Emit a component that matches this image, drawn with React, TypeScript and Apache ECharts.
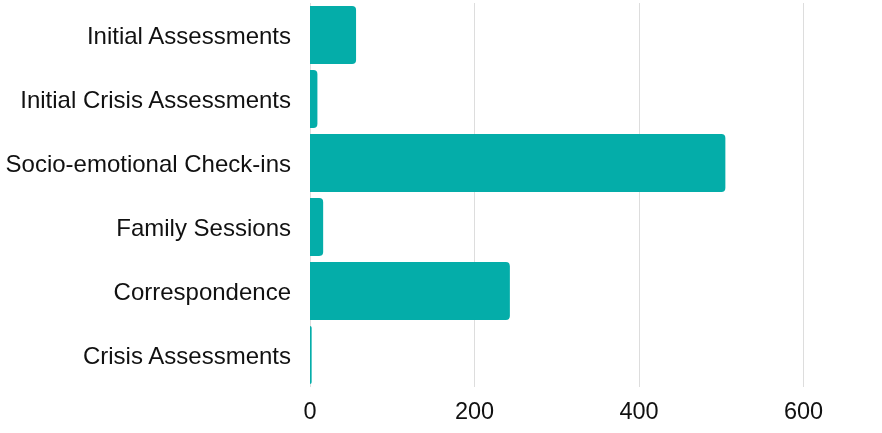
import React, { useEffect, useRef } from "react";
import * as echarts from "echarts";

const categories = [
  "Initial Assessments",
  "Initial Crisis Assessments",
  "Socio-emotional Check-ins",
  "Family Sessions",
  "Correspondence",
  "Crisis Assessments",
];
const values = [56, 9, 505, 16, 243, 2];
const xTicks = [0, 200, 400, 600];

export default function App() {
  const ref = useRef<HTMLDivElement>(null);
  useEffect(() => {
    if (!ref.current) return;
    const chart = echarts.init(ref.current, undefined, { renderer: "svg" });
    chart.setOption({
      animation: false,
      grid: { left: 310, right: 78.5, top: 3, height: 384, containLabel: false },
      xAxis: {
        type: "value",
        min: xTicks[0],
        max: xTicks[xTicks.length - 1],
        interval: 200,
        axisLine: { show: false },
        axisTick: { show: false },
        splitLine: { lineStyle: { color: "#dddddd", width: 1 } },
        axisLabel: {
          color: "#111111",
          fontSize: 23.5,
          fontFamily: "Liberation Sans, Arial, sans-serif",
          margin: 12,
        },
      },
      yAxis: {
        type: "category",
        data: categories,
        inverse: true,
        axisLine: { show: false },
        axisTick: { show: false },
        splitLine: { show: false },
        axisLabel: {
          color: "#111111",
          fontSize: 24,
          fontFamily: "Liberation Sans, Arial, sans-serif",
          margin: 19,
        },
      },
      series: [
        {
          type: "bar",
          data: values,
          barCategoryGap: "9.4%",
          itemStyle: {
            color: "#04ada9",
            borderRadius: [0, 4, 4, 0],
          },
        },
      ],
    });
    return () => chart.dispose();
  }, []);
  return (
    <div
      ref={ref}
      style={{ position: "fixed", left: 0, top: 0, width: 882, height: 433 }}
    />
  );
}
